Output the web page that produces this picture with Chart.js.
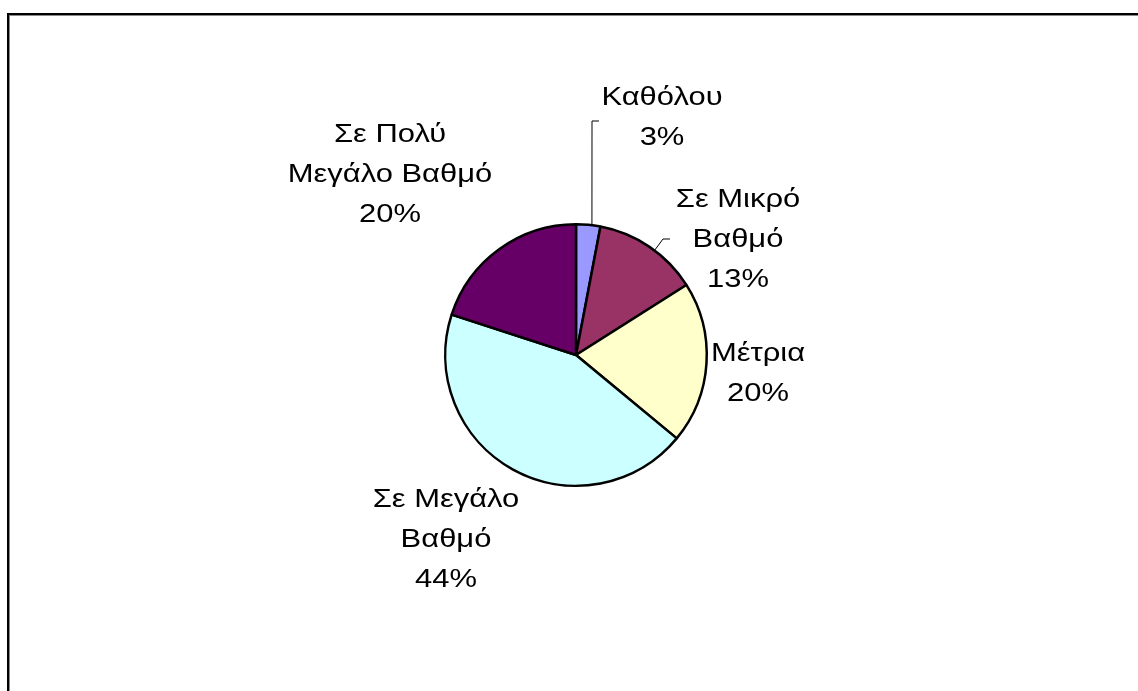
<!DOCTYPE html>
<html>
<head>
<meta charset="utf-8">
<script src="https://cdn.jsdelivr.net/npm/chart.js@4/dist/chart.umd.min.js"></script>
<style>
  html, body { margin: 0; padding: 0; background: #fff; }
  canvas { display: block; }
</style>
</head>
<body>
<canvas id="myChart" width="1138" height="691"></canvas>
<script>
// Data
const categories = ['Καθόλου', 'Σε Μικρό Βαθμό', 'Μέτρια', 'Σε Μεγάλο Βαθμό', 'Σε Πολύ Μεγάλο Βαθμό'];
const values = [3, 13, 20, 44, 20];
const colors = ['#9999FF', '#993366', '#FFFFCC', '#CCFFFF', '#660066'];

// How each label is broken over lines
const labelLines = [
	['Καθόλου'],
	['Σε Μικρό', 'Βαθμό'],
	['Μέτρια'],
	['Σε Μεγάλο', 'Βαθμό'],
	['Σε Πολύ', 'Μεγάλο Βαθμό']
];
// label centre, as offset from pie centre (px) - Excel style manual placement
const labelPos = [
	[86, -237], [162, -115], [182, 19], [-130, 185], [-186, -180]
];
// leader lines: [angle on rim (deg from top), points relative to centre]
const leaders = [
	{ angle: 7, pts: [[16, -234], [23, -234]] },
	{ angle: 36.9, pts: [[87, -116], [94, -116]] }
];

const LINE_H = 40;
const FONT = '26px "Liberation Sans", Arial, sans-serif';
const STRETCH = 1.19; // reference text is a bit wider than Arial

const labelPlugin = {
	id: 'pieLabels',
	beforeDraw(chart) {
		const c = chart.ctx;
		c.save();
		c.fillStyle = '#fff';
		c.fillRect(0, 0, chart.width, chart.height);
		// frame, only top and left edges visible
		c.fillStyle = '#000';
		c.fillRect(7, 13, chart.width, 2);
		c.fillRect(7, 13, 2, chart.height);
		c.fillStyle = '#888';
		c.fillRect(9, 15, chart.width, 1);
		c.fillRect(9, 15, 1, chart.height);
		c.restore();
	},
	afterDraw(chart) {
		const c = chart.ctx;
		const arcs = chart.getDatasetMeta(0).data;
		const cx = arcs[0].x, cy = arcs[0].y, r = arcs[0].outerRadius;
		const total = values.reduce((a, b) => a + b, 0);
		c.save();
		c.strokeStyle = '#000';
		c.lineWidth = 1;
		leaders.forEach(l => {
			const a = l.angle * Math.PI / 180;
			c.beginPath();
			c.moveTo(cx + r * Math.sin(a), cy - r * Math.cos(a));
			l.pts.forEach(p => c.lineTo(cx + p[0], cy + p[1]));
			c.stroke();
		});
		c.font = FONT;
		c.fillStyle = '#000';
		c.textAlign = 'center';
		c.textBaseline = 'middle';
		labelLines.forEach((lines, i) => {
			const all = lines.concat([Math.round(values[i] / total * 100) + '%']);
			const x = cx + labelPos[i][0];
			const y0 = cy + labelPos[i][1] - (all.length - 1) * LINE_H / 2;
			all.forEach((t, k) => {
				c.save();
				c.translate(x, y0 + k * LINE_H);
				c.scale(STRETCH, 1);
				c.fillText(t, 0, 0);
				c.restore();
			});
		});
		c.restore();
	}
};

new Chart(document.getElementById('myChart'), {
	type: 'pie',
	data: {
		labels: categories,
		datasets: [{
			data: values,
			backgroundColor: colors,
			borderColor: '#000',
			borderWidth: 2.5,
			borderAlign: 'center'
		}]
	},
	options: {
		responsive: false,
		animation: false,
		layout: { padding: { left: 444, right: 430, top: 223, bottom: 204 } },
		plugins: {
			legend: { display: false },
			tooltip: { enabled: false }
		}
	},
	plugins: [labelPlugin]
});
</script>
</body>
</html>
